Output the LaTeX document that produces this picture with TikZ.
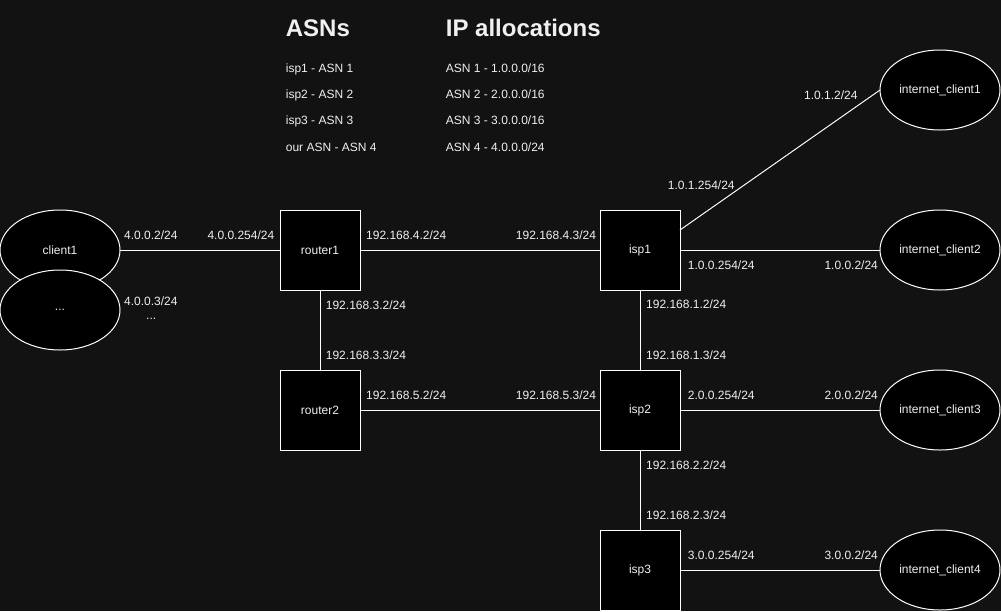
\documentclass[tikz,border=0pt]{standalone}
\usepackage{fontspec}
\setmainfont{Liberation Sans}
\usetikzlibrary{shapes.geometric,positioning}

\definecolor{bgdark}{HTML}{121212}
\definecolor{fgtext}{HTML}{F0F0F0}

\tikzset{
  device/.style={draw=white, fill=black, line width=1pt, minimum size=80pt,
    inner sep=0pt, outer sep=0pt, text=fgtext, font=\fontsize{12}{14}\selectfont},
  host/.style={ellipse, draw=white, fill=black, line width=1pt, minimum width=120pt,
    minimum height=80pt, inner sep=0pt, outer sep=0pt, text=fgtext, font=\fontsize{12}{14}\selectfont},
  addr/.style={anchor=base west, inner sep=0pt, text=fgtext, font=\fontsize{12}{14}\selectfont},
  heading/.style={anchor=base west, inner sep=0pt, text=fgtext, font=\fontsize{24}{28}\selectfont\bfseries},
  link/.style={draw=white, line width=1pt}
}

\begin{document}
\begin{tikzpicture}[x=1pt,y=-1pt]
  \fill[bgdark] (0,0) rectangle (1001,611);
  \useasboundingbox (0,0) rectangle (1001,611);

  % headings and tables
  \node[heading] (asnhead) at (285.7,36.7) {ASNs};
  \node[heading] (iphead) at (445.7,36.7) {IP allocations};
  \node[addr] (asn1) at (285.7,72.3) {isp1 - ASN 1};
  \node[addr] (asn2) at (285.7,98.3) {isp2 - ASN 2};
  \node[addr] (asn3) at (285.7,124.6) {isp3 - ASN 3};
  \node[addr] (asn4) at (285.7,151) {our ASN - ASN 4};
  \node[addr] (ip1) at (445.7,72.3) {ASN 1 - 1.0.0.0/16};
  \node[addr] (ip2) at (445.7,98.3) {ASN 2 - 2.0.0.0/16};
  \node[addr] (ip3) at (445.7,124.6) {ASN 3 - 3.0.0.0/16};
  \node[addr] (ip4) at (445.7,151) {ASN 4 - 4.0.0.0/24};

  % hosts
  \node[host] (client1) at (60,250) {client1};
  \node[host] (clientn) at (60,310) {...};
  \node[host] (iclient1) at (940,90) {internet\_client1};
  \node[host] (iclient2) at (940,250) {internet\_client2};
  \node[host] (iclient3) at (940,410) {internet\_client3};
  \node[host] (iclient4) at (940,570) {internet\_client4};

  % routers
  \node[device] (router1) at (320,250) {router1};
  \node[device] (router2) at (320,410) {router2};
  \node[device] (isp1) at (640,250) {isp1};
  \node[device] (isp2) at (640,410) {isp2};
  \node[device] (isp3) at (640,570) {isp3};

  % links
  \draw[link] (client1) -- (router1);
  \draw[link] (router1) -- (isp1);
  \draw[link] (router1) -- (router2);
  \draw[link] (router2) -- (isp2);
  \draw[link] (isp1) -- (isp2);
  \draw[link] (isp2) -- (isp3);
  \draw[link] ([yshift=20pt]isp1.east) -- (iclient1.west);
  \draw[link] (isp1) -- (iclient2);
  \draw[link] (isp2) -- (iclient3);
  \draw[link] (isp3) -- (iclient4);

  % addresses
  \node[addr] (a_c1) at (124,239) {4.0.0.2/24};
  \node[addr] (a_r1c) at (207.3,239) {4.0.0.254/24};
  \node[addr] (a_cn) at (124,305) {4.0.0.3/24};
  \node[addr] (a_cdots) at (146,319) {...};
  \node[addr] (a_r1i) at (366,239) {192.168.4.2/24};
  \node[addr] (a_i1r) at (515.7,239) {192.168.4.3/24};
  \node[addr] (a_r1d) at (325.7,309) {192.168.3.2/24};
  \node[addr] (a_r2u) at (325.7,359) {192.168.3.3/24};
  \node[addr] (a_r2i) at (366,399) {192.168.5.2/24};
  \node[addr] (a_i2r) at (515.7,399) {192.168.5.3/24};
  \node[addr] (a_i1d) at (646,308.5) {192.168.1.2/24};
  \node[addr] (a_i2u) at (646,359) {192.168.1.3/24};
  \node[addr] (a_i1c) at (687.7,269.3) {1.0.0.254/24};
  \node[addr] (a_ic2) at (824.3,269.3) {1.0.0.2/24};
  \node[addr] (a_i1c1) at (667.7,189) {1.0.1.254/24};
  \node[addr] (a_ic1) at (804,99) {1.0.1.2/24};
  \node[addr] (a_i2c) at (687.7,399) {2.0.0.254/24};
  \node[addr] (a_ic3) at (824.3,399) {2.0.0.2/24};
  \node[addr] (a_i2d) at (646,469) {192.168.2.2/24};
  \node[addr] (a_i3u) at (646,519) {192.168.2.3/24};
  \node[addr] (a_i3c) at (687.7,559) {3.0.0.254/24};
  \node[addr] (a_ic4) at (824.3,559) {3.0.0.2/24};
\end{tikzpicture}
\end{document}
